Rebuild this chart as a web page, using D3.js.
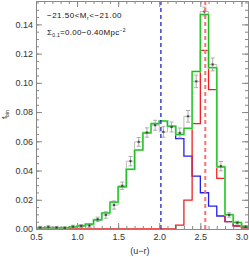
<!DOCTYPE html>
<html>
<head>
<meta charset="utf-8">
<script src="https://cdn.jsdelivr.net/npm/d3@7"></script>
<style>
  body { margin: 0; background: #fff; }
  svg { display: block; font-family: "Liberation Sans", Arial, sans-serif; }
</style>
</head>
<body>
<div class="chart"></div>
<script>
const width = 249
const height = 257

// left edges of the (u-r) bins, width 0.1
const binEdges = [0.5, 0.6, 0.7, 0.8, 0.9, 1.0, 1.1, 1.2, 1.3, 1.4, 1.5, 1.6, 1.7,
  1.8, 1.9, 2.0, 2.1, 2.2, 2.3, 2.4, 2.5, 2.6, 2.7, 2.8, 2.9, 3.0]
const binWidth = 0.1

const totalFit = [0.0008, 0.0008, 0.0008, 0.0008, 0.0014, 0.0022, 0.0033, 0.0063, 0.0110,
  0.0183, 0.0289, 0.0408, 0.0540, 0.0658, 0.0721, 0.0739, 0.0703, 0.0646, 0.0689,
  0.1078, 0.1468, 0.1104, 0.0425, 0.0098, 0.0045, 0.0018]
const blueFit = [0.0008, 0.0008, 0.0008, 0.0008, 0.0014, 0.0022, 0.0033, 0.0063, 0.0110,
  0.0183, 0.0289, 0.0408, 0.0540, 0.0658, 0.0721, 0.0739, 0.0703, 0.0619, 0.0498,
  0.0362, 0.0248, 0.0157, 0.0089, 0.0050, 0.0022, 0.0012]
const redFit = [0, 0, 0, 0, 0, 0, 0, 0, 0, 0, 0, 0, 0, 0, 0, 0, 0,
  0.0027, 0.0198, 0.0721, 0.1222, 0.0954, 0.0346, 0.0050, 0.0020, 0.0006]

const dataVals = [0.0010, 0.0014, 0.0010, 0.0008, 0.0016, 0.0020, 0.0023, 0.0066, 0.0096,
  0.0164, 0.0296, 0.0464, 0.0596, 0.0660, 0.0710, 0.0664, 0.0698, 0.0657, 0.0771,
  0.1010, 0.1488, 0.1126, 0.0430, 0.0096, 0.0043, 0.0015]
const dataErr = [0.0008, 0.0008, 0.0008, 0.0006, 0.0010, 0.0010, 0.0012, 0.0015, 0.0022,
  0.0028, 0.0025, 0.0032, 0.0030, 0.0032, 0.0034, 0.0036, 0.0034, 0.0034, 0.0040,
  0.0043, 0.0030, 0.0044, 0.0032, 0.0015, 0.0010, 0.0008]

const blueMean = 2.02
const redMean = 2.56

const xTicks = [0.5, 1.0, 1.5, 2.0, 2.5, 3.0]
const yTicks = [0.00, 0.02, 0.04, 0.06, 0.08, 0.10, 0.12, 0.14]

const margin = { left: 36, right: 1, top: 1, bottom: 28 }

const svg = d3.select('.chart')
  .append('svg')
  .attr('width', width)
  .attr('height', height)

const xScale = d3.scaleLinear()
  .domain([0.5, 3.08])
  .range([margin.left, width - margin.right])
const yScale = d3.scaleLinear()
  .domain([0, 0.156])
  .range([height - margin.bottom, margin.top])

svg.append('clipPath')
  .attr('id', 'plot-clip')
  .append('rect')
  .attr('x', xScale.range()[0])
  .attr('y', yScale.range()[1])
  .attr('width', xScale.range()[1] - xScale.range()[0])
  .attr('height', yScale.range()[0] - yScale.range()[1])

const plot = svg.append('g').attr('clip-path', 'url(#plot-clip)')

const stepLine = d3.line()
  .x(d => xScale(d[0]))
  .y(d => yScale(d[1]))
  .curve(d3.curveStepAfter)

function stepPoints(vals) {
  const pts = binEdges.map((e, i) => [e, vals[i]])
  pts.push([binEdges[binEdges.length - 1] + binWidth, vals[vals.length - 1]])
  return pts
}

// data histogram (light grey)
plot.append('path')
  .attr('d', stepLine(stepPoints(dataVals)))
  .attr('fill', 'none')
  .attr('stroke', '#bbb')
  .attr('stroke-width', 1)

plot.append('path')
  .attr('d', stepLine(stepPoints(blueFit)))
  .attr('fill', 'none')
  .attr('stroke', '#2020ee')
  .attr('stroke-width', 1.3)

plot.append('path')
  .attr('d', stepLine(stepPoints(redFit)))
  .attr('fill', 'none')
  .attr('stroke', '#ee2020')
  .attr('stroke-width', 1.3)

plot.append('path')
  .attr('d', stepLine(stepPoints(totalFit)))
  .attr('fill', 'none')
  .attr('stroke', '#80ee80')
  .attr('stroke-width', 2)
plot.append('path')
  .attr('d', stepLine(stepPoints(totalFit)))
  .attr('fill', 'none')
  .attr('stroke', '#18b818')
  .attr('stroke-width', 1)

// error bars and points
const pts = plot.append('g')
  .selectAll('g')
  .data(dataVals)
  .enter()
  .append('g')
  .attr('transform', (d, i) => `translate(${xScale(binEdges[i] + binWidth / 2)},0)`)

pts.append('line')
  .attr('y1', (d, i) => yScale(d - dataErr[i]))
  .attr('y2', (d, i) => yScale(d + dataErr[i]))
  .attr('stroke', '#999')
  .attr('stroke-width', 0.8)
pts.append('line')
  .attr('x1', -2).attr('x2', 2)
  .attr('y1', (d, i) => yScale(d + dataErr[i]))
  .attr('y2', (d, i) => yScale(d + dataErr[i]))
  .attr('stroke', '#999')
  .attr('stroke-width', 0.8)
pts.append('line')
  .attr('x1', -2).attr('x2', 2)
  .attr('y1', (d, i) => yScale(d - dataErr[i]))
  .attr('y2', (d, i) => yScale(d - dataErr[i]))
  .attr('stroke', '#999')
  .attr('stroke-width', 0.8)
pts.append('path')
  .attr('d', d => {
    const y = yScale(d)
    return `M-1.3,${y}h2.6M0,${y - 1.3}v2.6M-1,${y - 1}l2,2M-1,${y + 1}l2,-2`
  })
  .attr('stroke', '#333')
  .attr('stroke-width', 0.6)

// mean colour lines
plot.append('line')
  .attr('x1', xScale(blueMean)).attr('x2', xScale(blueMean))
  .attr('y1', yScale.range()[1]).attr('y2', yScale.range()[0])
  .attr('stroke', '#1010cc')
  .attr('stroke-width', 1.2)
  .attr('stroke-dasharray', '4,3')
plot.append('line')
  .attr('x1', xScale(redMean)).attr('x2', xScale(redMean))
  .attr('y1', yScale.range()[1]).attr('y2', yScale.range()[0])
  .attr('stroke', '#ff7070')
  .attr('stroke-width', 2)
  .attr('stroke-dasharray', '4,3')

// axes: ticks inward on all four sides
const axisColor = '#888'
const minorX = d3.range(5, 31).map(v => v / 10)
const minorY = d3.range(0, 32).map(v => v * 0.005)

function styleAxis(g) {
  g.select('.domain').attr('stroke', axisColor)
  g.selectAll('.tick line').attr('stroke', axisColor)
  g.selectAll('.tick text').attr('fill', '#333').style('font-size', '9px')
}

const y0 = yScale.range()[0]
const y1 = yScale.range()[1]
const x0 = xScale.range()[0]
const x1 = xScale.range()[1]

svg.append('g').attr('transform', `translate(0,${y0})`)
  .call(d3.axisBottom(xScale).tickValues(minorX).tickSize(-3).tickSizeOuter(0).tickFormat(''))
  .call(styleAxis)
svg.append('g').attr('transform', `translate(0,${y0})`)
  .call(d3.axisBottom(xScale).tickValues(xTicks).tickSize(-6).tickSizeOuter(0)
    .tickPadding(5).tickFormat(d3.format('.1f')))
  .call(styleAxis)
svg.append('g').attr('transform', `translate(0,${y1})`)
  .call(d3.axisTop(xScale).tickValues(minorX).tickSize(-3).tickSizeOuter(0).tickFormat(''))
  .call(styleAxis)
svg.append('g').attr('transform', `translate(0,${y1})`)
  .call(d3.axisTop(xScale).tickValues(xTicks).tickSize(-6).tickSizeOuter(0).tickFormat(''))
  .call(styleAxis)

svg.append('g').attr('transform', `translate(${x0},0)`)
  .call(d3.axisLeft(yScale).tickValues(minorY).tickSize(-3).tickSizeOuter(0).tickFormat(''))
  .call(styleAxis)
svg.append('g').attr('transform', `translate(${x0},0)`)
  .call(d3.axisLeft(yScale).tickValues(yTicks).tickSize(-6).tickSizeOuter(0)
    .tickPadding(3).tickFormat(d3.format('.2f')))
  .call(styleAxis)
svg.append('g').attr('transform', `translate(${x1},0)`)
  .call(d3.axisRight(yScale).tickValues(minorY).tickSize(-3).tickSizeOuter(0).tickFormat(''))
  .call(styleAxis)
svg.append('g').attr('transform', `translate(${x1},0)`)
  .call(d3.axisRight(yScale).tickValues(yTicks).tickSize(-6).tickSizeOuter(0).tickFormat(''))
  .call(styleAxis)

// labels
svg.append('text')
  .attr('x', 140)
  .attr('y', 254)
  .attr('text-anchor', 'middle')
  .attr('fill', '#333')
  .style('font-size', '9px')
  .text('(u\u2212r)')

const ylab = svg.append('text')
  .attr('transform', 'translate(7,119) rotate(-90)')
  .attr('fill', '#333')
  .style('font-size', '8px')
ylab.append('tspan').text('f')
ylab.append('tspan').attr('dy', 2).style('font-size', '5px').text('bin')

const t1 = svg.append('text')
  .attr('x', 47)
  .attr('y', 18)
  .attr('fill', '#111')
  .style('font-size', '8px')
  .style('letter-spacing', '0.5px')
t1.append('tspan').text('\u221221.50<M')
t1.append('tspan').attr('dy', 1.5).style('font-size', '5px').text('r')
t1.append('tspan').attr('dy', -1.5).text('<\u221221.00')

const t2 = svg.append('text')
  .attr('x', 47)
  .attr('y', 35)
  .attr('fill', '#111')
  .style('font-size', '8px')
  .style('letter-spacing', '0.3px')
t2.append('tspan').text('\u03a3')
t2.append('tspan').attr('dy', 1.5).style('font-size', '5px').text('0.1')
t2.append('tspan').attr('dy', -1.5).text('=0.00\u22120.40Mpc')
t2.append('tspan').attr('dy', -3).style('font-size', '5px').text('\u22122')
</script>
</body>
</html>
